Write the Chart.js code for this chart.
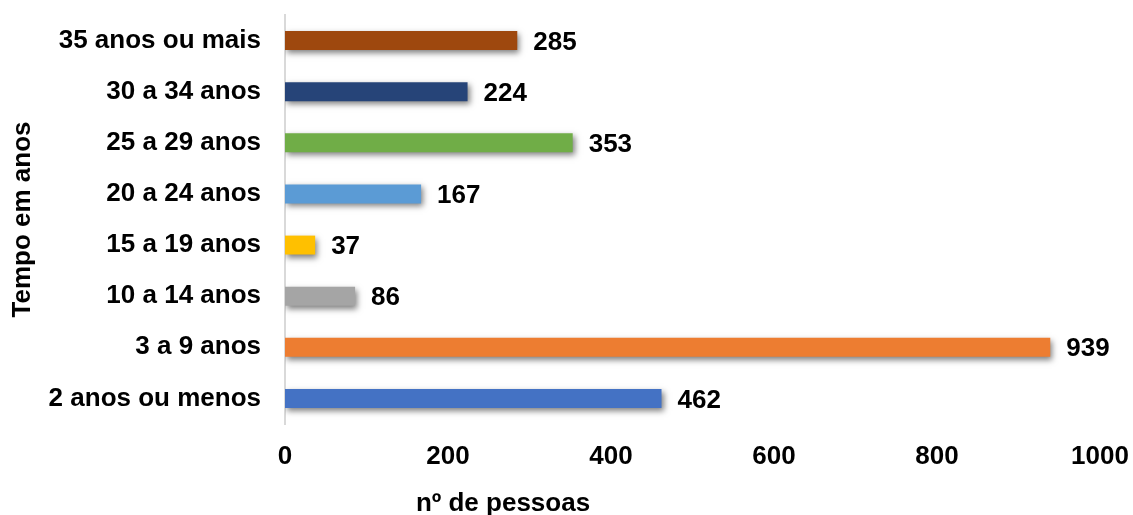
<!DOCTYPE html>
<html>
<head>
<meta charset="utf-8">
<script src="https://cdn.jsdelivr.net/npm/chart.js@4/dist/chart.umd.min.js"></script>
<style>
  body { margin: 0; background: #fff; }
</style>
</head>
<body>
<canvas id="tempoChart" width="1133" height="515"></canvas>
<script>
const faixas = ['35 anos ou mais', '30 a 34 anos', '25 a 29 anos', '20 a 24 anos', '15 a 19 anos', '10 a 14 anos', '3 a 9 anos', '2 anos ou menos'];
const pessoas = [285, 224, 353, 167, 37, 86, 939, 462];
const cores = ['#9E480E', '#264478', '#70AD47', '#5B9BD5', '#FFC000', '#A5A5A5', '#ED7D31', '#4472C4'];
const ticksX = [0, 200, 400, 600, 800, 1000];

const fonte = "'Liberation Sans', Arial, sans-serif";

// sombra das barras
const barShadow = {
  id: 'barShadow',
  beforeDatasetsDraw(chart) {
    const ctx = chart.ctx;
    ctx.save();
    ctx.shadowColor = 'rgba(0, 0, 0, 0.5)';
    ctx.shadowBlur = 6;
    ctx.shadowOffsetX = 2;
    ctx.shadowOffsetY = 3;
  },
  afterDatasetsDraw(chart) {
    chart.ctx.restore();
  }
};

// valores ao lado das barras + titulo do eixo x
const rotulos = {
  id: 'rotulos',
  afterDraw(chart) {
    const ctx = chart.ctx;
    ctx.save();
    ctx.fillStyle = '#000';
    ctx.font = 'bold 26px ' + fonte;
    ctx.textBaseline = 'middle';
    ctx.textAlign = 'left';
    chart.getDatasetMeta(0).data.forEach((bar, i) => {
      ctx.fillText(String(pessoas[i]), bar.x + 16, bar.y + 2);
    });
    ctx.textAlign = 'center';
    ctx.textBaseline = 'alphabetic';
    ctx.fillText('nº de pessoas', 503, 511);
    ctx.restore();
  }
};

new Chart(document.getElementById('tempoChart'), {
  type: 'bar',
  data: {
    labels: faixas,
    datasets: [{
      data: pessoas,
      backgroundColor: cores,
      borderWidth: 0,
      categoryPercentage: 1,
      barPercentage: 0.37
    }]
  },
  options: {
    indexAxis: 'y',
    responsive: false,
    animation: false,
    layout: {
      padding: { left: 0, right: 33, top: 15, bottom: 0 }
    },
    plugins: {
      legend: { display: false },
      tooltip: { enabled: false }
    },
    scales: {
      x: {
        min: 0,
        max: 1000,
        afterBuildTicks(scale) {
          scale.ticks = ticksX.map(v => ({ value: v }));
        },
        afterFit(scale) {
          scale.height = 91;
          scale.paddingLeft = 0;
          scale.paddingRight = 0;
        },
        grid: { display: false, drawTicks: false },
        border: { display: false },
        ticks: {
          padding: 17,
          color: '#000',
          callback: v => String(v),
          font: { family: fonte, size: 26, weight: 'bold' }
        }
      },
      y: {
        afterFit(scale) {
          scale.width = 285;
          scale.paddingTop = 0;
          scale.paddingBottom = 0;
        },
        grid: { display: false, drawTicks: false },
        border: { display: true, color: '#D9D9D9', width: 2 },
        title: {
          display: true,
          text: 'Tempo em anos',
          color: '#000',
          padding: { top: 7, bottom: 0 },
          font: { family: fonte, size: 26, weight: 'bold' }
        },
        ticks: {
          padding: 24,
          color: '#000',
          font: { family: fonte, size: 26, weight: 'bold' }
        }
      }
    }
  },
  plugins: [barShadow, rotulos]
});
</script>
</body>
</html>
